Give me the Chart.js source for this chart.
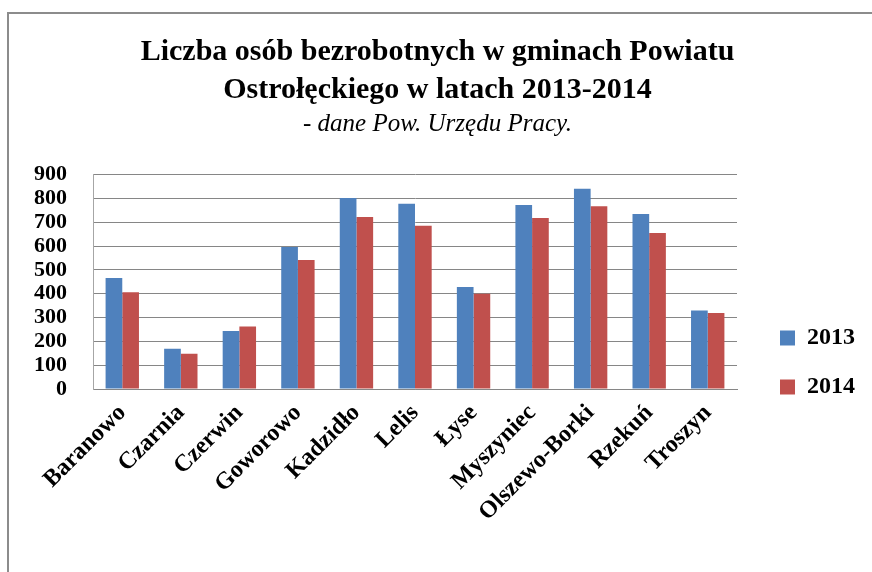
<!DOCTYPE html>
<html>
<head>
<meta charset="utf-8">
<script src="https://cdn.jsdelivr.net/npm/chart.js@4.4.0/dist/chart.umd.min.js"></script>
<style>
    html, body { margin: 0; padding: 0; background: #fff; overflow: hidden; }
    .frame {
        position: absolute;
        left: 7px; top: 12px;
        width: 900px; height: 600px;
        border: 2px solid #8c8c8c;
    }
    #wrap { position: absolute; left: 0; top: 0; width: 872px; height: 572px; }
</style>
</head>
<body>
<div class="frame"></div>
<div id="wrap"><canvas id="unemployedChart" width="872" height="572"></canvas></div>
<script>

const gminy = ['Baranowo', 'Czarnia', 'Czerwin', 'Goworowo', 'Kadzidło', 'Lelis',
    'Łyse', 'Myszyniec', 'Olszewo-Borki', 'Rzekuń', 'Troszyn'];
const values2013 = [466, 169, 244, 596, 802, 778, 428, 773, 841, 735, 330];
const values2014 = [406, 148, 262, 542, 722, 686, 400, 718, 767, 655, 319];
const yTicks = [0, 100, 200, 300, 400, 500, 600, 700, 800, 900];

// legend sits lower and further right than chart.js puts it
const moveLegend = {
    id: 'moveLegend',
    afterLayout(chart) {
        const lg = chart.legend;
        if (!lg) return;
        lg.left += 18; lg.right += 18;
        lg.top += 60; lg.bottom += 60;
    }
};

const serif = "'Liberation Serif', 'Times New Roman', serif";

new Chart(document.getElementById('unemployedChart'), {
    type: 'bar',
    data: {
        labels: gminy,
        datasets: [{
            label: '2013',
            data: values2013,
            backgroundColor: '#4F81BD',
            borderWidth: 0
        }, {
            label: '2014',
            data: values2014,
            backgroundColor: '#C0504D',
            borderWidth: 0
        }]
    },
    options: {
        responsive: false,
        animation: false,
        layout: { padding: { top: 33, left: 28, right: 25, bottom: 0 } },
        datasets: { bar: { categoryPercentage: 0.57, barPercentage: 1 } },
        plugins: {
            title: {
                display: true,
                text: ['Liczba osób bezrobotnych w gminach Powiatu', 'Ostrołęckiego w latach 2013-2014'],
                color: '#000',
                font: { family: serif, size: 30, weight: 'bold', lineHeight: 1.27 },
                padding: { top: 0, bottom: 1 }
            },
            subtitle: {
                display: true,
                text: '- dane Pow. Urzędu Pracy.',
                color: '#000',
                font: { family: serif, size: 25, style: 'italic', lineHeight: 1.1 },
                padding: { top: 0, bottom: 37 }
            },
            legend: {
                position: 'right',
                labels: {
                    color: '#000',
                    boxWidth: 15,
                    boxHeight: 15,
                    padding: 25,
                    font: { family: serif, size: 24, weight: 'bold' }
                }
            },
            tooltip: { enabled: false }
        },
        scales: {
            x: {
                grid: { display: false },
                border: { display: true, color: '#868686', width: 1 },
                ticks: {
                    color: '#000',
                    maxRotation: 45,
                    minRotation: 45,
                    autoSkip: false,
                    padding: 2,
                    font: { family: serif, size: 24, weight: 'bold' }
                },
                afterFit(scale) { scale.height = 183; }
            },
            y: {
                min: 0,
                max: 900,
                afterBuildTicks(scale) { scale.ticks = yTicks.map(v => ({ value: v })); },
                grid: { color: '#868686', lineWidth: 1, drawTicks: false },
                border: { display: true, color: '#a6a6a6', width: 1 },
                ticks: {
                    color: '#000',
                    autoSkip: false,
                    padding: 26,
                    font: { family: serif, size: 22, weight: 'bold', lineHeight: 1 }
                },
                afterFit(scale) { scale.width = 65; }
            }
        }
    },
    plugins: [moveLegend]
});
</script>
</body>
</html>
